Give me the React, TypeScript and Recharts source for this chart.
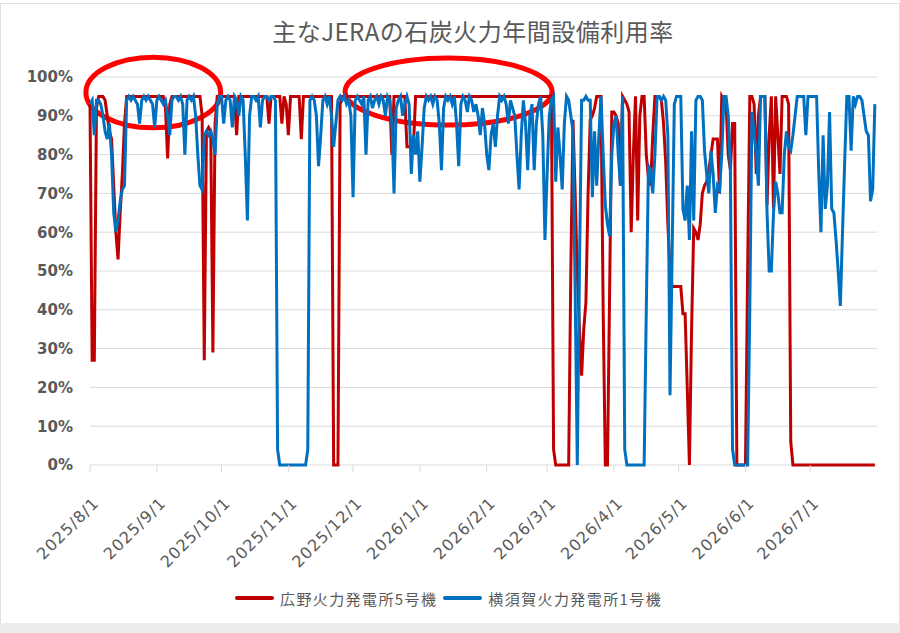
import { LineChart, Line, XAxis, YAxis, CartesianGrid, ReferenceArea } from 'recharts'

// 広野火力発電所5号機 (daily utilisation, %)
const hiroAug = [93, 27, 27, 92, 95, 95, 95, 94, 90, 86, 84, 72, 60, 53, 65, 75, 88, 95, 95, 95, 95, 95, 95, 95, 95, 95, 95, 95, 95, 95, 95]
const hiroSep = [95, 95, 95, 95, 92, 79, 93, 95, 95, 95, 95, 95, 95, 95, 95, 95, 95, 95, 95, 95, 95, 90, 27, 86, 87, 86, 29, 88, 95, 95]
const hiroOct = [95, 95, 95, 95, 95, 95, 95, 85, 95, 95, 95, 95, 95, 95, 95, 95, 95, 95, 95, 95, 95, 95, 88, 95, 95, 95, 95, 95, 88, 95, 93]
const hiroNov = [85, 95, 95, 95, 95, 95, 84, 95, 95, 95, 95, 95, 95, 95, 95, 95, 95, 95, 95, 95, 95, 0, 0, 0, 93, 95, 95, 95, 95, 95]
const hiroDec = [95, 95, 95, 95, 95, 95, 95, 95, 95, 95, 95, 95, 95, 95, 95, 95, 95, 95, 80, 95, 95, 95, 95, 95, 95, 82, 82, 82, 82, 95, 95]
const hiroJan = [95, 95, 95, 95, 95, 95, 95, 95, 95, 95, 95, 95, 95, 95, 95, 95, 95, 95, 95, 95, 95, 95, 95, 95, 95, 95, 95, 95, 95, 95, 95]
const hiroFeb = [95, 95, 95, 95, 95, 95, 95, 95, 95, 95, 95, 95, 95, 95, 95, 95, 95, 95, 95, 95, 95, 95, 95, 95, 95, 95, 95, 95]
const hiroMar = [95, 95, 95, 4, 0, 0, 0, 0, 0, 0, 0, 50, 89, 70, 50, 35, 23, 35, 42, 70, 89, 90, 92, 95, 95, 95, 40, 0, 0, 45, 91]
const hiroApr = [91, 90, 88, 72, 95, 94, 93, 91, 60, 80, 95, 63, 90, 95, 95, 80, 74, 72, 85, 95, 95, 95, 94, 88, 78, 62, 50, 46, 46, 46]
const hiroMay = [46, 46, 39, 39, 20, 0, 35, 61, 60, 58, 62, 70, 72, 73, 76, 80, 84, 84, 84, 70, 95, 94, 93, 80, 76, 88, 88, 0, 0, 0, 0]
const hiroJun = [0, 50, 95, 95, 93, 75, 90, 95, 95, 95, 67, 85, 95, 66, 95, 85, 75, 95, 95, 95, 93, 6, 0, 0, 0, 0, 0, 0, 0, 0]
const hiroJul = [0, 0, 0, 0, 0, 0, 0, 0, 0, 0, 0, 0, 0, 0, 0, 0, 0, 0, 0, 0, 0, 0, 0, 0, 0, 0, 0, 0, 0, 0, 0]

// 横須賀火力発電所1号機
const yokoAug = [93, 94, 85, 94, 94, 93, 90, 86, 84, 88, 80, 65, 60, 63, 68, 71, 72, 94, 95, 94, 95, 94, 93, 88, 94, 95, 94, 95, 94, 93, 87]
const yokoSep = [94, 95, 94, 93, 94, 90, 85, 94, 95, 95, 94, 95, 93, 80, 94, 95, 94, 95, 90, 80, 72, 71, 85, 86, 85, 86, 84, 80, 93, 95]
const yokoOct = [95, 88, 94, 95, 94, 87, 95, 94, 90, 95, 94, 80, 63, 90, 95, 95, 94, 95, 87, 94, 95, 95, 94, 95, 95, 94, 4, 0, 0, 0, 0]
const yokoNov = [0, 0, 0, 0, 0, 0, 0, 0, 0, 4, 94, 95, 94, 90, 77, 85, 94, 95, 93, 95, 90, 82, 88, 94, 95, 94, 95, 93, 94, 90]
const yokoDec = [69, 94, 95, 94, 93, 95, 80, 94, 95, 92, 94, 95, 93, 95, 94, 90, 95, 94, 88, 70, 92, 94, 95, 90, 93, 95, 93, 75, 85, 80, 86]
const yokoJan = [73, 82, 92, 95, 94, 95, 93, 95, 94, 88, 76, 92, 95, 94, 95, 93, 95, 88, 77, 93, 95, 94, 91, 95, 94, 91, 93, 90, 85, 92, 88]
const yokoFeb = [80, 76, 85, 88, 82, 90, 95, 94, 95, 93, 88, 94, 92, 90, 80, 71, 85, 94, 88, 76, 90, 93, 76, 88, 93, 95, 85, 58]
const yokoMar = [75, 90, 94, 95, 73, 87, 80, 71, 88, 95, 94, 90, 86, 45, 0, 50, 94, 94, 95, 94, 94, 69, 86, 72, 85, 95, 80, 67, 62, 59, 80]
const yokoApr = [88, 90, 80, 72, 95, 4, 0, 0, 0, 0, 0, 0, 0, 0, 0, 40, 77, 76, 70, 80, 95, 95, 94, 95, 94, 85, 18, 55, 93, 95]
const yokoMay = [95, 95, 66, 63, 72, 58, 86, 63, 94, 95, 95, 94, 81, 75, 70, 81, 75, 65, 72, 71, 80, 95, 95, 90, 76, 4, 0, 0, 0, 0, 0]
const yokoJun = [0, 0, 40, 91, 86, 80, 72, 95, 95, 95, 65, 50, 50, 65, 73, 70, 65, 65, 80, 86, 82, 81, 85, 90, 95, 95, 95, 95, 85, 95]
const yokoJul = [95, 95, 95, 95, 75, 60, 85, 66, 72, 91, 66, 65, 58, 50, 41, 60, 78, 95, 95, 81, 95, 93, 95, 95, 94, 90, 86, 85, 68, 71, 93]

// x-axis ticks: days since 2025/8/1
const monthTicks = [0, 31, 61, 92, 122, 153, 184, 212, 243, 273, 304, 334]
const monthLabels = ['2025/8/1', '2025/9/1', '2025/10/1', '2025/11/1', '2025/12/1', '2026/1/1', '2026/2/1', '2026/3/1', '2026/4/1', '2026/5/1', '2026/6/1', '2026/7/1']
const yTicks = [0, 10, 20, 30, 40, 50, 60, 70, 80, 90, 100]

const hiro = [...hiroAug, ...hiroSep, ...hiroOct, ...hiroNov, ...hiroDec, ...hiroJan, ...hiroFeb, ...hiroMar, ...hiroApr, ...hiroMay, ...hiroJun, ...hiroJul]
const yoko = [...yokoAug, ...yokoSep, ...yokoOct, ...yokoNov, ...yokoDec, ...yokoJan, ...yokoFeb, ...yokoMar, ...yokoApr, ...yokoMay, ...yokoJun, ...yokoJul]
const data = hiro.map((v, i) => ({ day: i, hiro: v, yoko: yoko[i] }))

const RED = '#C00000'
const BLUE = '#0070C0'
const TEXT = '#595959'
const GRID = '#d9d9d9'

function XTick(props: any) {
  const { x, y, payload } = props
  const ax = x + 10
  const ay = y + 30
  const idx = monthTicks.indexOf(payload.value)
  return (
    <text x={ax} y={ay} transform={`rotate(-45 ${ax} ${ay})`} textAnchor="end"
      fill={TEXT} fontSize={16} fontFamily="DejaVu Sans" letterSpacing={1}>
      {monthLabels[idx]}
    </text>
  )
}

const ellipse = (p: any) => (
  <ellipse cx={p.x + p.width / 2} cy={p.y + p.height / 2} rx={p.width / 2} ry={p.height / 2}
    fill="none" stroke="#FF0000" strokeWidth={5} />
)

function LegendItem({ color, label }: { color: string; label: string }) {
  return (
    <div style={{ display: 'flex', alignItems: 'center', marginRight: 6 }}>
      <div style={{ width: 39, height: 4, background: color, borderRadius: 2, marginRight: 6 }} />
      <span style={{ fontSize: 15, letterSpacing: 1.4, color: TEXT }}>{label}</span>
    </div>
  )
}

export default function App() {
  return (
    <div style={{ position: 'absolute', left: 0, top: 0, width: 900, height: 633, background: '#fff', fontFamily: '"Noto Sans CJK JP", sans-serif', overflow: 'hidden' }}>
      <div style={{ position: 'absolute', left: 0, top: 3, width: 898, height: 619, border: '1px solid #e0e0e0' }} />
      <div style={{ position: 'absolute', left: 0, top: 623, width: 900, height: 10, background: '#ececec' }} />
      <div style={{ position: 'absolute', left: 0, top: 15, width: 946, textAlign: 'center', fontSize: 24, letterSpacing: 0.5, color: TEXT, lineHeight: '32px' }}>
        主なJERAの石炭火力年間設備利用率
      </div>
      <div style={{ position: 'absolute', left: 0, top: 0 }}>
        <LineChart width={900} height={633} data={data} margin={{ top: 77, right: 23, left: 0, bottom: 0 }}>
          <CartesianGrid vertical={false} stroke={GRID} />
          <XAxis type="number" dataKey="day" domain={[0, 365]} ticks={monthTicks} interval={0}
            height={168} tickSize={7} axisLine={false} tickLine={{ stroke: GRID }} tick={<XTick />} />
          <YAxis domain={[0, 100]} ticks={yTicks} width={90} tickSize={0} tickMargin={17}
            axisLine={false} tickLine={false} tickFormatter={(v) => `${v}%`}
            tick={{ fill: TEXT, fontSize: 15, fontWeight: 'bold', fontFamily: 'DejaVu Sans' }} />
          <Line type="linear" dataKey="hiro" stroke={RED} strokeWidth={3} dot={false} isAnimationActive={false} />
          <Line type="linear" dataKey="yoko" stroke={BLUE} strokeWidth={3} dot={false} isAnimationActive={false} />
          <ReferenceArea x1={-1.9} x2={60.6} y1={86.9} y2={105.1} ifOverflow="visible" shape={ellipse} />
          <ReferenceArea x1={118.3} x2={214.3} y1={87.6} y2={104.9} ifOverflow="visible" shape={ellipse} />
        </LineChart>
      </div>
      <div style={{ position: 'absolute', left: 235, top: 586, height: 24, display: 'flex', alignItems: 'center' }}>
        <LegendItem color={RED} label="広野火力発電所5号機" />
        <LegendItem color={BLUE} label="横須賀火力発電所1号機" />
      </div>
    </div>
  )
}
